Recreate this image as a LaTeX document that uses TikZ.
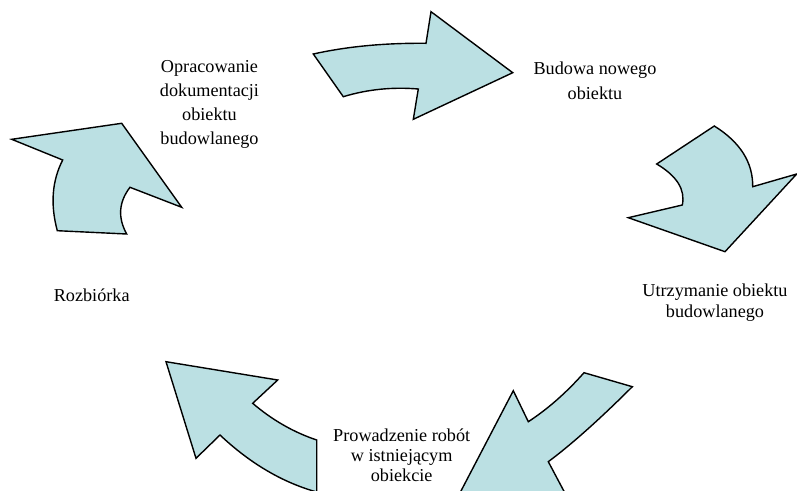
\documentclass[tikz,border=0pt]{standalone}
\usepackage{fontspec}
\setmainfont{Liberation Serif}
\definecolor{arrowfill}{RGB}{187,224,227}
\tikzset{
  cyclearrow/.style={draw=black, fill=arrowfill, line width=1.4pt, line join=miter},
  label/.style={align=center, inner sep=0pt, font=\fontsize{18.2}{#1}\selectfont},
  label/.default=24
}
\begin{document}
\begin{tikzpicture}[x=1pt,y=-1pt]
\useasboundingbox (0,0) rectangle (797,490);
% arrow 1 (top)
\draw[cyclearrow] (313.3,54) .. controls (346.9,46.5) and (384.5,42.9) .. (426,43.3) -- (431,11.7) -- (512.7,72.7)
  -- (413.3,119.3) -- (418.3,89) .. controls (392.2,86.8) and (367.2,89.4) .. (343.3,96.7) -- cycle;
% arrow 2 (right)
\draw[cyclearrow] (714.3,126) .. controls (740.2,142.2) and (753.0,162.4) .. (752.7,186.7) -- (796.7,174) -- (725,251.7)
  -- (628.3,217.7) -- (682.3,205) .. controls (685.5,189.7) and (677.0,176.1) .. (656.7,164) -- cycle;
% arrow 3 (bottom right)
\draw[cyclearrow] (584,372.7) -- (632.3,386.7) .. controls (599.5,419.4) and (571.5,444.4) .. (548.3,461.7) -- (575,512)
  -- (450,512) -- (513.3,390.7) -- (528.3,421.7) .. controls (547.6,409.1) and (566.2,392.8) .. cycle;
% arrow 4 (bottom left)
\draw[cyclearrow] (166,361.7) -- (277.7,380) -- (252.7,403.3) .. controls (272.2,420.0) and (293.5,432.2) .. (316.7,440)
  -- (316.7,492) .. controls (282.2,482.3) and (250,463.3) .. (220,435) -- (196,458.3) -- cycle;
% arrow 5 (left)
\draw[cyclearrow] (11.7,139.3) -- (121.7,123.3) -- (181.7,207.3) -- (130,187.3)
  .. controls (118.7,202) and (117.6,217.6) .. (126.7,234) -- (57.3,230.7)
  .. controls (50.2,204.4) and (52.0,180.8) .. (62.7,160) -- cycle;
% labels
\node[label=24] (doc) at (209.5,104) {Opracowanie\\dokumentacji\\obiektu\\budowlanego};
\node[label=25] (build) at (595,80.5) {Budowa nowego\\obiektu};
\node[label=21] (maint) at (715,303) {Utrzymanie obiektu\\budowlanego};
\node[label=20] (works) at (401.7,455) {Prowadzenie robót\\w istniejącym\\obiekcie};
\node[label=24] (demol) at (91.7,295) {Rozbiórka};
\end{tikzpicture}
\end{document}
